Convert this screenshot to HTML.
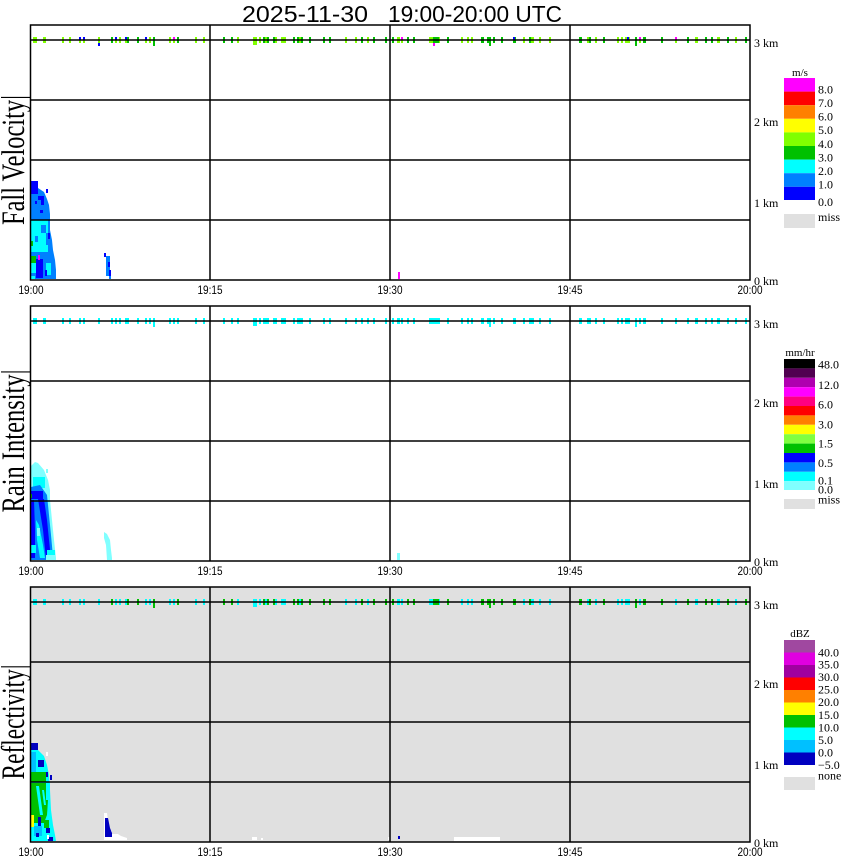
<!DOCTYPE html>
<html><head><meta charset="utf-8"><style>
html,body{margin:0;padding:0;background:#fff;}
svg{display:block;}
.ser{font-family:"Liberation Serif","DejaVu Serif",serif;}
.san{font-family:"Liberation Sans","DejaVu Sans",sans-serif;}
</style></head><body>
<svg width="850" height="868" viewBox="0 0 850 868" xmlns="http://www.w3.org/2000/svg" xmlns:xlink="http://www.w3.org/1999/xlink">
<defs>
<g id="mkAll">
<rect x="33" y="37" width="4" height="6"/><rect x="43" y="37" width="3" height="6"/><rect x="62" y="37" width="2" height="6"/><rect x="69" y="37" width="2" height="6"/><rect x="79" y="37" width="2" height="6"/><rect x="83" y="37" width="2" height="6"/><rect x="98" y="37" width="2" height="6"/><rect x="111" y="37" width="2" height="6"/><rect x="115" y="37" width="2" height="6"/><rect x="119" y="37" width="2" height="6"/><rect x="125" y="37" width="4" height="6"/><rect x="137" y="37" width="2" height="6"/><rect x="145" y="37" width="2" height="6"/><rect x="149" y="37" width="2" height="6"/><rect x="153" y="37" width="2" height="9"/><rect x="169" y="37" width="2" height="6"/><rect x="173" y="37" width="2" height="6"/><rect x="177" y="37" width="2" height="6"/><rect x="195" y="37" width="2" height="6"/><rect x="203" y="37" width="2" height="6"/><rect x="223" y="37" width="2" height="6"/><rect x="231" y="37" width="2" height="6"/><rect x="237" y="37" width="2" height="6"/><rect x="253" y="37" width="4" height="8"/><rect x="259" y="37" width="2" height="6"/><rect x="263" y="37" width="6" height="6"/><rect x="273" y="37" width="4" height="6"/><rect x="281" y="37" width="5" height="6"/><rect x="293" y="37" width="2" height="6"/><rect x="297" y="37" width="6" height="6"/><rect x="309" y="37" width="2" height="6"/><rect x="323" y="37" width="2" height="6"/><rect x="329" y="37" width="2" height="6"/><rect x="345" y="37" width="2" height="6"/><rect x="355" y="37" width="2" height="6"/><rect x="361" y="37" width="2" height="6"/><rect x="367" y="37" width="2" height="6"/><rect x="373" y="37" width="2" height="6"/><rect x="385" y="37" width="2" height="6"/>
<rect x="392" y="37" width="2" height="6"/><rect x="397" y="37" width="3" height="6"/><rect x="401" y="37" width="2" height="6"/><rect x="407" y="37" width="2" height="6"/><rect x="413" y="37" width="2" height="6"/><rect x="429" y="37" width="11" height="6"/><rect x="447" y="37" width="2" height="6"/><rect x="461" y="37" width="2" height="6"/><rect x="467" y="37" width="2" height="6"/><rect x="471" y="37" width="2" height="6"/><rect x="481" y="37" width="3" height="6"/><rect x="487" y="37" width="2" height="6"/><rect x="489" y="37" width="2" height="9"/><rect x="493" y="37" width="2" height="6"/><rect x="501" y="37" width="2" height="6"/><rect x="513" y="37" width="3" height="6"/><rect x="523" y="37" width="2" height="6"/><rect x="529" y="37" width="5" height="6"/><rect x="539" y="37" width="2" height="6"/><rect x="549" y="37" width="2" height="6"/><rect x="579" y="37" width="3" height="6"/><rect x="587" y="37" width="4" height="6"/><rect x="595" y="37" width="2" height="6"/><rect x="603" y="37" width="2" height="6"/><rect x="617" y="37" width="2" height="6"/><rect x="621" y="37" width="2" height="6"/><rect x="625" y="37" width="5" height="6"/><rect x="635" y="37" width="2" height="9"/><rect x="639" y="37" width="2" height="6"/><rect x="643" y="37" width="3" height="6"/><rect x="661" y="37" width="2" height="6"/><rect x="675" y="37" width="2" height="6"/><rect x="687" y="37" width="2" height="6"/><rect x="695" y="37" width="3" height="6"/><rect x="705" y="37" width="2" height="6"/><rect x="711" y="37" width="2" height="6"/><rect x="717" y="37" width="3" height="6"/><rect x="727" y="37" width="2" height="6"/><rect x="735" y="37" width="2" height="6"/><rect x="745" y="37" width="2" height="6"/>
</g>
<g id="mkG">
<rect x="111" y="37" width="2" height="6"/><rect x="127" y="37" width="2" height="6"/><rect x="137" y="37" width="2" height="6"/><rect x="153" y="37" width="2" height="9"/><rect x="177" y="37" width="2" height="6"/><rect x="223" y="37" width="2" height="6"/><rect x="231" y="37" width="2" height="6"/><rect x="263" y="37" width="2" height="6"/><rect x="267" y="37" width="2" height="6"/><rect x="273" y="37" width="2" height="6"/><rect x="293" y="37" width="2" height="6"/><rect x="297" y="37" width="2" height="6"/><rect x="301" y="37" width="2" height="6"/><rect x="309" y="37" width="2" height="6"/><rect x="323" y="37" width="2" height="6"/><rect x="329" y="37" width="2" height="6"/><rect x="361" y="37" width="2" height="6"/><rect x="373" y="37" width="2" height="6"/><rect x="385" y="37" width="2" height="6"/>
<rect x="392" y="37" width="2" height="6"/><rect x="407" y="37" width="2" height="6"/><rect x="413" y="37" width="2" height="6"/><rect x="433" y="37" width="6" height="6"/><rect x="447" y="37" width="2" height="6"/><rect x="481" y="37" width="3" height="6"/><rect x="487" y="37" width="2" height="6"/><rect x="489" y="37" width="2" height="9"/><rect x="493" y="37" width="2" height="6"/><rect x="501" y="37" width="2" height="6"/><rect x="513" y="37" width="3" height="6"/><rect x="529" y="37" width="2" height="6"/><rect x="579" y="37" width="3" height="6"/><rect x="589" y="37" width="2" height="6"/><rect x="603" y="37" width="2" height="6"/><rect x="635" y="37" width="2" height="9"/><rect x="643" y="37" width="3" height="6"/><rect x="661" y="37" width="2" height="6"/><rect x="687" y="37" width="2" height="6"/><rect x="705" y="37" width="2" height="6"/><rect x="711" y="37" width="2" height="6"/><rect x="727" y="37" width="2" height="6"/><rect x="745" y="37" width="2" height="6"/>
</g>
</defs>

<!-- Title -->
<text class="san" x="242" y="22" font-size="23" textLength="126" lengthAdjust="spacingAndGlyphs">2025-11-30</text>
<text class="san" x="388" y="22" font-size="23" textLength="174" lengthAdjust="spacingAndGlyphs">19:00-20:00 UTC</text>

<!-- ================= PANEL 1 ================= -->
<rect x="30" y="25" width="720" height="255" fill="#fff"/>
<!-- data -->
<polygon fill="#0080ff" points="31,184 34,181 37,181 38,188 44,192 47,199 49,205 50,214 50,230 52,240 53,250 55,260 56,270 56,279 31,279"/>
<rect fill="#0000ff" x="31" y="181" width="7" height="13"/>
<rect fill="#0000ff" x="46" y="189" width="2" height="4"/>
<rect fill="#0000ff" x="38" y="196" width="6" height="4"/>
<rect fill="#0000ff" x="41" y="200" width="3" height="5"/>
<rect fill="#0000ff" x="35" y="201" width="2" height="3"/>
<rect fill="#0000ff" x="40" y="210" width="3" height="3"/>
<rect fill="#00ffff" x="31" y="220" width="17" height="32"/>
<rect fill="#0080ff" x="41" y="225" width="5" height="8"/>
<rect fill="#0080ff" x="46" y="233" width="4" height="12"/>
<rect fill="#0080ff" x="35" y="236" width="3" height="6"/>
<rect fill="#0000ff" x="48" y="233" width="2" height="6"/>
<rect fill="#00c000" x="31" y="241" width="2" height="5"/>
<rect fill="#00c000" x="31" y="256" width="5" height="7"/>
<rect fill="#00ffff" x="31" y="263" width="5" height="10"/>
<rect fill="#0000ff" x="36" y="259" width="7" height="19"/>
<rect fill="#ff00ff" x="38" y="255" width="2" height="5"/>
<rect fill="#00ffff" x="46" y="263" width="5" height="12"/>
<rect fill="#0000ff" x="45" y="270" width="2" height="6"/>
<rect fill="#00ffff" x="31" y="276" width="4" height="3"/>
<rect fill="#0000ff" x="104" y="253" width="2" height="4"/>
<rect fill="#0080ff" x="106" y="256" width="4" height="20"/>
<rect fill="#0000ff" x="108" y="262" width="2" height="5"/>
<rect fill="#0000ff" x="109" y="270" width="2" height="6"/>
<rect fill="#0080ff" x="109" y="276" width="2" height="3"/>
<rect fill="#ff00ff" x="398" y="272" width="2" height="7"/>
<!-- markers -->
<use xlink:href="#mkAll" fill="#80ff00"/>
<use xlink:href="#mkG" fill="#00c000"/>
<rect fill="#0000ff" x="79" y="37" width="2" height="3"/><rect fill="#0000ff" x="83" y="37" width="2" height="3"/><rect fill="#0000ff" x="98" y="43" width="2" height="3"/><rect fill="#0000ff" x="115" y="37" width="2" height="3"/><rect fill="#0000ff" x="125" y="37" width="2" height="3"/><rect fill="#0000ff" x="145" y="37" width="2" height="3"/><rect fill="#ff00ff" x="173" y="37" width="2" height="3"/><rect fill="#ff00ff" x="401" y="37" width="2" height="3"/><rect fill="#ff00ff" x="433" y="43" width="2" height="3"/><rect fill="#0000ff" x="513" y="37" width="2" height="3"/><rect fill="#0000ff" x="627" y="37" width="2" height="3"/><rect fill="#ff00ff" x="639" y="37" width="2" height="3"/><rect fill="#ff00ff" x="675" y="37" width="2" height="3"/>
<!-- grid -->
<g stroke="#000" stroke-width="1.5" fill="none">
<line x1="30" y1="40" x2="750" y2="40"/>
<line x1="30" y1="100" x2="750" y2="100"/>
<line x1="30" y1="160" x2="750" y2="160"/>
<line x1="30" y1="220" x2="750" y2="220"/>
<line x1="210" y1="25" x2="210" y2="280"/>
<line x1="390" y1="25" x2="390" y2="280"/>
<line x1="570" y1="25" x2="570" y2="280"/>
<rect x="30.5" y="25" width="719.5" height="255"/>
</g>

<!-- ================= PANEL 2 ================= -->
<rect x="30" y="306" width="720" height="255" fill="#fff"/>
<polygon fill="#80ffff" points="31,466 35,462 38,463 44,470 48,480 50,490 50,500 52,520 54,540 56,558 56,560 31,560"/>
<rect fill="#80ffff" x="46" y="469" width="2" height="4"/>
<rect fill="#00ffff" x="33" y="477" width="12" height="11"/>
<polygon fill="#0080ff" points="31,487 40,485 47,495 49,515 51,535 53,557 53,560 31,560"/>
<rect fill="#0000ff" x="31" y="491" width="12" height="8"/>
<rect fill="#00c000" x="31" y="494" width="1" height="4"/>
<polygon fill="#0000ff" points="38,499 44,499 47,520 49,540 51,559 46,559 43,530"/>
<polygon fill="#0000ff" points="31,500 34,500 35,530 35,558 31,558"/>
<polygon fill="#00ffff" points="36,520 39,525 43,545 45,558 40,558 37,540"/>
<rect fill="#00ffff" x="31" y="545" width="5" height="8"/>
<rect fill="#80ffff" x="37" y="528" width="3" height="8"/>
<rect fill="#00ffff" x="47" y="550" width="8" height="9"/>
<rect fill="#80ffff" x="46" y="555" width="9" height="5"/>
<polygon fill="#80ffff" points="104,532 107,534 110,540 111,550 112,558 112,560 107,560 106,545 104,538"/>
<rect fill="#80ffff" x="397" y="553" width="3" height="7"/>
<use xlink:href="#mkAll" fill="#00ffff" transform="translate(0,281)"/>
<g stroke="#000" stroke-width="1.5" fill="none">
<line x1="30" y1="321" x2="750" y2="321"/>
<line x1="30" y1="381" x2="750" y2="381"/>
<line x1="30" y1="441" x2="750" y2="441"/>
<line x1="30" y1="501" x2="750" y2="501"/>
<line x1="210" y1="306" x2="210" y2="561"/>
<line x1="390" y1="306" x2="390" y2="561"/>
<line x1="570" y1="306" x2="570" y2="561"/>
<rect x="30.5" y="306" width="719.5" height="255"/>
</g>

<!-- ================= PANEL 3 ================= -->
<rect x="30" y="587" width="720" height="255" fill="#e0e0e0"/>
<polygon fill="#00ffff" points="31,750 38,743 38,750 44,756 47,765 49,775 50,790 51,810 53,825 55,835 56,841 31,841"/>
<rect fill="#0000c0" x="31" y="743" width="7" height="7"/>
<rect fill="#00c0ff" x="31" y="752" width="5" height="20"/>
<rect fill="#0000c0" x="38" y="760" width="6" height="7"/>
<rect fill="#0000c0" x="46" y="772" width="2" height="5"/>
<rect fill="#fff" x="46" y="752" width="2" height="4"/>
<rect fill="#00c000" x="31" y="772" width="15" height="10"/>
<polygon fill="#00c000" points="31,783 48,783 48,800 47,815 44,823 31,823"/>
<polygon fill="#00ffff" points="36,786 39,786 43,815 40,815"/>
<polygon fill="#00ffff" points="42,790 44,790 46,805 44,805"/>
<rect fill="#00ffff" x="46" y="783" width="4" height="17"/>
<rect fill="#0000c0" x="50" y="775" width="2" height="5"/>
<rect fill="#ffff00" x="31" y="815" width="3" height="12"/>
<rect fill="#0000c0" x="38" y="817" width="3" height="10"/>
<rect fill="#00c0ff" x="34" y="826" width="8" height="10"/>
<rect fill="#00c000" x="44" y="820" width="5" height="8"/>
<rect fill="#0000c0" x="46" y="828" width="4" height="5"/>
<rect fill="#0000c0" x="48" y="837" width="5" height="4"/>
<rect fill="#fff" x="47" y="835" width="2" height="4"/>
<rect fill="#0000c0" x="36" y="833" width="3" height="4"/>
<polygon fill="#fff" points="104,813 107,813 109,830 115,832 121,836 127,838 127,840 104,840"/>
<polygon fill="#0000c0" points="105,818 108,818 110,828 112,833 112,837 105,837"/>
<rect fill="#e0e0e0" x="112" y="830" width="6" height="4"/>
<rect fill="#fff" x="252" y="837" width="5" height="3"/>
<rect fill="#fff" x="261" y="838" width="2" height="2"/>
<rect fill="#fff" x="388" y="837" width="2" height="3"/>
<rect fill="#0000c0" x="398" y="836" width="2" height="3"/>
<rect fill="#fff" x="454" y="837" width="46" height="4"/>
<use xlink:href="#mkAll" fill="#00ffff" transform="translate(0,562)"/>
<use xlink:href="#mkG" fill="#00c000" transform="translate(0,562)"/>
<g stroke="#000" stroke-width="1.5" fill="none">
<line x1="30" y1="602" x2="750" y2="602"/>
<line x1="30" y1="662" x2="750" y2="662"/>
<line x1="30" y1="722" x2="750" y2="722"/>
<line x1="30" y1="782" x2="750" y2="782"/>
<line x1="210" y1="587" x2="210" y2="842"/>
<line x1="390" y1="587" x2="390" y2="842"/>
<line x1="570" y1="587" x2="570" y2="842"/>
<rect x="30.5" y="587" width="719.5" height="255"/>
</g>

<!-- Y axis labels -->
<text class="ser" transform="translate(24,160) rotate(-90)" text-anchor="middle" font-size="33" textLength="130" lengthAdjust="spacingAndGlyphs">Fall Velocity|</text>
<text class="ser" transform="translate(24,441) rotate(-90)" text-anchor="middle" font-size="33" textLength="143" lengthAdjust="spacingAndGlyphs">Rain Intensity|</text>
<text class="ser" transform="translate(24,722) rotate(-90)" text-anchor="middle" font-size="33" textLength="115" lengthAdjust="spacingAndGlyphs">Reflectivity|</text>

<!-- Time labels -->
<g class="san" font-size="12" text-anchor="middle">
<text x="31" y="294" textLength="25" lengthAdjust="spacingAndGlyphs">19:00</text>
<text x="210" y="294" textLength="25" lengthAdjust="spacingAndGlyphs">19:15</text>
<text x="390" y="294" textLength="25" lengthAdjust="spacingAndGlyphs">19:30</text>
<text x="570" y="294" textLength="25" lengthAdjust="spacingAndGlyphs">19:45</text>
<text x="750" y="294" textLength="25" lengthAdjust="spacingAndGlyphs">20:00</text>
<text x="31" y="575" textLength="25" lengthAdjust="spacingAndGlyphs">19:00</text>
<text x="210" y="575" textLength="25" lengthAdjust="spacingAndGlyphs">19:15</text>
<text x="390" y="575" textLength="25" lengthAdjust="spacingAndGlyphs">19:30</text>
<text x="570" y="575" textLength="25" lengthAdjust="spacingAndGlyphs">19:45</text>
<text x="750" y="575" textLength="25" lengthAdjust="spacingAndGlyphs">20:00</text>
<text x="31" y="856" textLength="25" lengthAdjust="spacingAndGlyphs">19:00</text>
<text x="210" y="856" textLength="25" lengthAdjust="spacingAndGlyphs">19:15</text>
<text x="390" y="856" textLength="25" lengthAdjust="spacingAndGlyphs">19:30</text>
<text x="570" y="856" textLength="25" lengthAdjust="spacingAndGlyphs">19:45</text>
<text x="750" y="856" textLength="25" lengthAdjust="spacingAndGlyphs">20:00</text>
</g>

<!-- km labels -->
<g class="ser" font-size="12">
<text x="754" y="47">3 km</text><text x="754" y="126">2 km</text><text x="754" y="207">1 km</text><text x="754" y="285">0 km</text>
<text x="754" y="328">3 km</text><text x="754" y="407">2 km</text><text x="754" y="488">1 km</text><text x="754" y="566">0 km</text>
<text x="754" y="609">3 km</text><text x="754" y="688">2 km</text><text x="754" y="769">1 km</text><text x="754" y="847">0 km</text>
</g>

<!-- Legend 1 -->
<text class="ser" x="800" y="76" font-size="11" text-anchor="middle">m/s</text>
<rect x="784" y="78" width="31" height="13.6" fill="#ff00ff"/>
<rect x="784" y="91.6" width="31" height="13.6" fill="#ff0000"/>
<rect x="784" y="105.2" width="31" height="13.6" fill="#ff8000"/>
<rect x="784" y="118.8" width="31" height="13.6" fill="#ffff00"/>
<rect x="784" y="132.4" width="31" height="13.6" fill="#80ff00"/>
<rect x="784" y="146" width="31" height="13.6" fill="#00c000"/>
<rect x="784" y="159.6" width="31" height="13.6" fill="#00ffff"/>
<rect x="784" y="173.2" width="31" height="13.6" fill="#0080ff"/>
<rect x="784" y="186.8" width="31" height="13.2" fill="#0000ff"/>
<rect x="784" y="214" width="31" height="14" fill="#e0e0e0"/>
<g class="ser" font-size="12">
<text x="818" y="93.5">8.0</text><text x="818" y="107">7.0</text><text x="818" y="120.5">6.0</text><text x="818" y="134">5.0</text><text x="818" y="148">4.0</text><text x="818" y="161.5">3.0</text><text x="818" y="175">2.0</text><text x="818" y="188.5">1.0</text><text x="818" y="206">0.0</text><text x="818" y="221">miss</text>
</g>

<!-- Legend 2 -->
<text class="ser" x="800" y="356" font-size="11" text-anchor="middle">mm/hr</text>
<rect x="784" y="359" width="31" height="9.4" fill="#000000"/>
<rect x="784" y="368.4" width="31" height="9.4" fill="#500050"/>
<rect x="784" y="377.8" width="31" height="9.4" fill="#b000b0"/>
<rect x="784" y="387.2" width="31" height="9.4" fill="#ff00ff"/>
<rect x="784" y="396.6" width="31" height="9.4" fill="#ff0080"/>
<rect x="784" y="406" width="31" height="9.4" fill="#ff0000"/>
<rect x="784" y="415.4" width="31" height="9.4" fill="#ff8000"/>
<rect x="784" y="424.8" width="31" height="9.4" fill="#ffff00"/>
<rect x="784" y="434.2" width="31" height="9.4" fill="#80ff40"/>
<rect x="784" y="443.6" width="31" height="9.4" fill="#00c000"/>
<rect x="784" y="453" width="31" height="9.4" fill="#0000ff"/>
<rect x="784" y="462.4" width="31" height="9.4" fill="#0080ff"/>
<rect x="784" y="471.8" width="31" height="9.4" fill="#00ffff"/>
<rect x="784" y="481.2" width="31" height="8.8" fill="#80ffff"/>
<rect x="784" y="499" width="31" height="10" fill="#e0e0e0"/>
<g class="ser" font-size="12">
<text x="818" y="368.5">48.0</text><text x="818" y="389">12.0</text><text x="818" y="408.5">6.0</text><text x="818" y="428.5">3.0</text><text x="818" y="447.5">1.5</text><text x="818" y="467">0.5</text><text x="818" y="484.5">0.1</text><text x="818" y="493.5">0.0</text><text x="818" y="503.5">miss</text>
</g>

<!-- Legend 3 -->
<text class="ser" x="800" y="637" font-size="11" text-anchor="middle">dBZ</text>
<rect x="784" y="640" width="31" height="12.5" fill="#a048a0"/>
<rect x="784" y="652.5" width="31" height="12.5" fill="#e000e0"/>
<rect x="784" y="665" width="31" height="12.5" fill="#a000a0"/>
<rect x="784" y="677.5" width="31" height="12.5" fill="#ff0000"/>
<rect x="784" y="690" width="31" height="12.5" fill="#ff8000"/>
<rect x="784" y="702.5" width="31" height="12.5" fill="#ffff00"/>
<rect x="784" y="715" width="31" height="12.5" fill="#00c000"/>
<rect x="784" y="727.5" width="31" height="12.5" fill="#00ffff"/>
<rect x="784" y="740" width="31" height="12.5" fill="#00c0ff"/>
<rect x="784" y="752.5" width="31" height="12.5" fill="#0000c0"/>
<rect x="784" y="777" width="31" height="13" fill="#e0e0e0"/>
<g class="ser" font-size="12">
<text x="818" y="656.5">40.0</text><text x="818" y="668.5">35.0</text><text x="818" y="681">30.0</text><text x="818" y="693.5">25.0</text><text x="818" y="706">20.0</text><text x="818" y="719">15.0</text><text x="818" y="731.5">10.0</text><text x="818" y="744">5.0</text><text x="818" y="756.5">0.0</text><text x="818" y="769">−5.0</text><text x="818" y="779.5">none</text>
</g>
</svg>
</body></html>
